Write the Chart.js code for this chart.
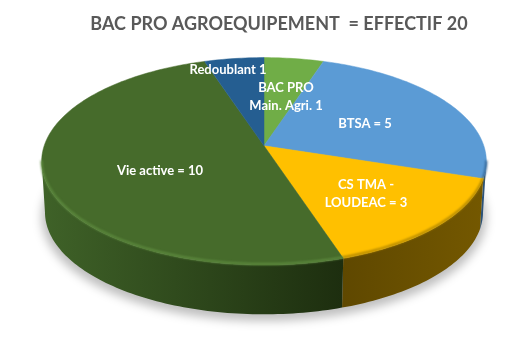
<!DOCTYPE html>
<html>
<head>
<meta charset="utf-8">
<style>
  html, body { margin: 0; padding: 0; background: #fff; }
  canvas { display: block; }
</style>
<script src="https://cdn.jsdelivr.net/npm/chart.js@4"></script>
</head>
<body>
<canvas id="pie3d" width="513" height="361"></canvas>
<script>
const categories = ["BAC PRO Main. Agri.", "BTSA", "CS TMA - LOUDEAC", "Vie active", "Redoublant"];
const values = [1, 5, 3, 10, 1];
const titleText = "BAC PRO AGROEQUIPEMENT  = EFFECTIF 20";

const topColors = ["#70ad47", "#5b9bd5", "#ffc000", "#466b2b", "#255e91"];
const rimColors = ["#70ad47", "#2f5f8e", "#a88000", "#5f8d40", "#255e91"];
const sideStops = [
  ["#43682b", "#43682b"],
  ["#2b5278", "#2b5278"],
  ["#5f4800", "#745800"],
  ["#3f6228", "#1d2e0f"],
  ["#1a4266", "#1a4266"]
];

// text placed by hand, same as in the original
const labels = [
  { lines: ["Redoublant 1"], x: 228, y: 70 },
  { lines: ["BAC PRO", "Main. Agri. 1"], x: 286, y: 88 },
  { lines: ["BTSA = 5"], x: 365, y: 124 },
  { lines: ["Vie active = 10"], x: 160, y: 171 },
  { lines: ["CS TMA -", "LOUDEAC = 3"], x: 366, y: 185 }
];

const pieShiftX = -15;   // title is centred 15px right of the pie
const persp = 0.15;      // far side of the disc looks smaller
const stretchX = 2.07;
const stretchY = 0.955;
const depth = 51;

function project(el, angle, drop, shrink) {
  const u = Math.cos(angle), v = -Math.sin(angle);
  const w = 1 + persp * v;
  const R = el.outerRadius;
  return {
    x: el.x + pieShiftX + shrink * R * stretchX * u / w,
    y: el.y + drop - shrink * R * stretchY * v / w
  };
}

function traceRim(ctx, el, a1, a2, drop, shrink, move) {
  const steps = Math.max(2, Math.ceil(Math.abs(a2 - a1) / 0.02));
  for (let i = 0; i <= steps; i++) {
    const p = project(el, a1 + (a2 - a1) * i / steps, drop, shrink);
    if (i === 0 && move) ctx.moveTo(p.x, p.y);
    else ctx.lineTo(p.x, p.y);
  }
}

class Arc3D extends Chart.ArcElement {
  draw(ctx) {
    const i = this.$context.dataIndex;
    const a1 = this.startAngle, a2 = this.endAngle;

    // side wall, only the part that faces the viewer
    const from = Math.max(a1, Math.asin(persp));
    const to = Math.min(a2, Math.PI - Math.asin(persp));
    if (to > from) {
      const left = Math.min(project(this, from, 0, 1).x, project(this, to, 0, 1).x);
      const right = Math.max(project(this, from, 0, 1).x, project(this, to, 0, 1).x);
      const g = ctx.createLinearGradient(left, 0, right, 0);
      g.addColorStop(0, sideStops[i][0]);
      g.addColorStop(1, sideStops[i][1]);
      ctx.beginPath();
      traceRim(ctx, this, from, to, 0, 1, true);
      traceRim(ctx, this, to, from, depth, 0.985, false);
      ctx.closePath();
      ctx.fillStyle = g;
      ctx.fill();
    }

    // top face
    const apex = project(this, 0, 0, 0);
    ctx.beginPath();
    ctx.moveTo(apex.x, apex.y);
    traceRim(ctx, this, a1, a2, 0, 1, false);
    ctx.closePath();
    ctx.fillStyle = topColors[i];
    ctx.fill();
    ctx.strokeStyle = topColors[i];
    ctx.lineWidth = 0.5;
    ctx.stroke();

    // soft bevel on the visible rim
    if (to > from) {
      ctx.save();
      ctx.filter = "blur(1px)";
      ctx.beginPath();
      traceRim(ctx, this, from, to, -1, 1, true);
      ctx.strokeStyle = rimColors[i];
      ctx.lineWidth = 2;
      ctx.stroke();
      ctx.restore();
    }
  }
}
Arc3D.id = "arc3d";
Arc3D.defaults = Chart.ArcElement.defaults;

class Pie3DController extends Chart.PieController {}
Pie3DController.id = "pie3d";
Pie3DController.defaults = { ...Chart.PieController.defaults, dataElementType: "arc3d" };
Pie3DController.overrides = Chart.PieController.overrides;

Chart.register(Arc3D, Pie3DController);

const groundShadow = {
  id: "groundShadow",
  beforeDatasetsDraw(chart) {
    const el = chart.getDatasetMeta(0).data[0];
    const ctx = chart.ctx;
    ctx.save();
    ctx.filter = "blur(5px)";
    ctx.fillStyle = "rgba(0,0,0,0.25)";
    ctx.beginPath();
    traceRim(ctx, el, 0, Math.PI * 2, depth + 5, 1.0, true);
    ctx.closePath();
    ctx.fill();
    ctx.restore();
  }
};

const sliceText = {
  id: "sliceText",
  afterDatasetsDraw(chart) {
    const ctx = chart.ctx;
    ctx.save();
    ctx.fillStyle = "#ffffff";
    ctx.font = "bold 13px Lato";
    ctx.textAlign = "center";
    ctx.textBaseline = "middle";
    labels.forEach(l => {
      l.lines.forEach((line, n) => ctx.fillText(line, l.x, l.y + n * 18));
    });
    ctx.restore();
  }
};

new Chart(document.getElementById("pie3d"), {
  type: "pie3d",
  data: {
    labels: categories,
    datasets: [{ data: values, backgroundColor: topColors, borderWidth: 0 }]
  },
  options: {
    responsive: false,
    animation: false,
    layout: { padding: { left: 57, right: 12, top: 0, bottom: 109 } },
    plugins: {
      legend: { display: false },
      tooltip: { enabled: false },
      title: {
        display: true,
        text: titleText,
        color: "#595959",
        font: { family: "Lato", size: 18, weight: "bold" },
        padding: { top: 13, bottom: 5 }
      }
    }
  },
  plugins: [groundShadow, sliceText]
});
</script>
</body>
</html>
